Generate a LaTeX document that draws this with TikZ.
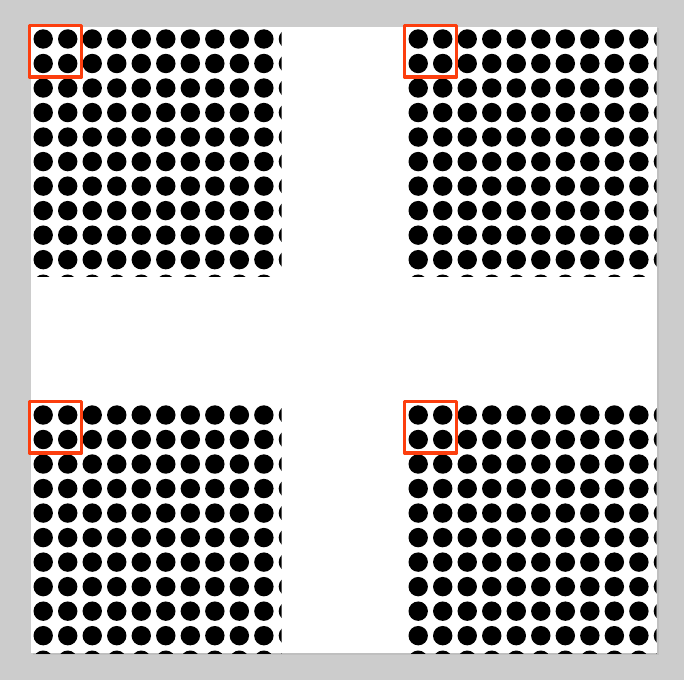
\documentclass[tikz,border=0pt]{standalone}
\usepackage{tikz}
\definecolor{markred}{RGB}{252,62,14}

\begin{document}
\begin{tikzpicture}[x=1pt,y=1pt]
\fill[gray!40] (0,0) rectangle (684,680);
\useasboundingbox (0,0) rectangle (684,680);
\begin{scope}[shift={(31,653)}, yscale=-1]
\fill[black!25] (1.5,1.5) rectangle (627.5,627.5);
\fill[white] (0,0) rectangle (626,626);
\foreach \u/\v in {0/0,375/0,0/376,375/376}
  {\begin{scope}[shift={(\u,\v)}]
   \clip (0,0) rectangle (250.5,250);
   \foreach \a in {0,...,10}
     \foreach \b in {0,...,10}
       \fill[black] (12.2+24.52*\a,12+24.52*\b) circle (9.7);
   \end{scope}
   \draw[markred, line width=3.3pt, line join=round] (\u-1.5,\v-1.5) rectangle (\u+50.5,\v+50);}
\end{scope}
\end{tikzpicture}
\end{document}
